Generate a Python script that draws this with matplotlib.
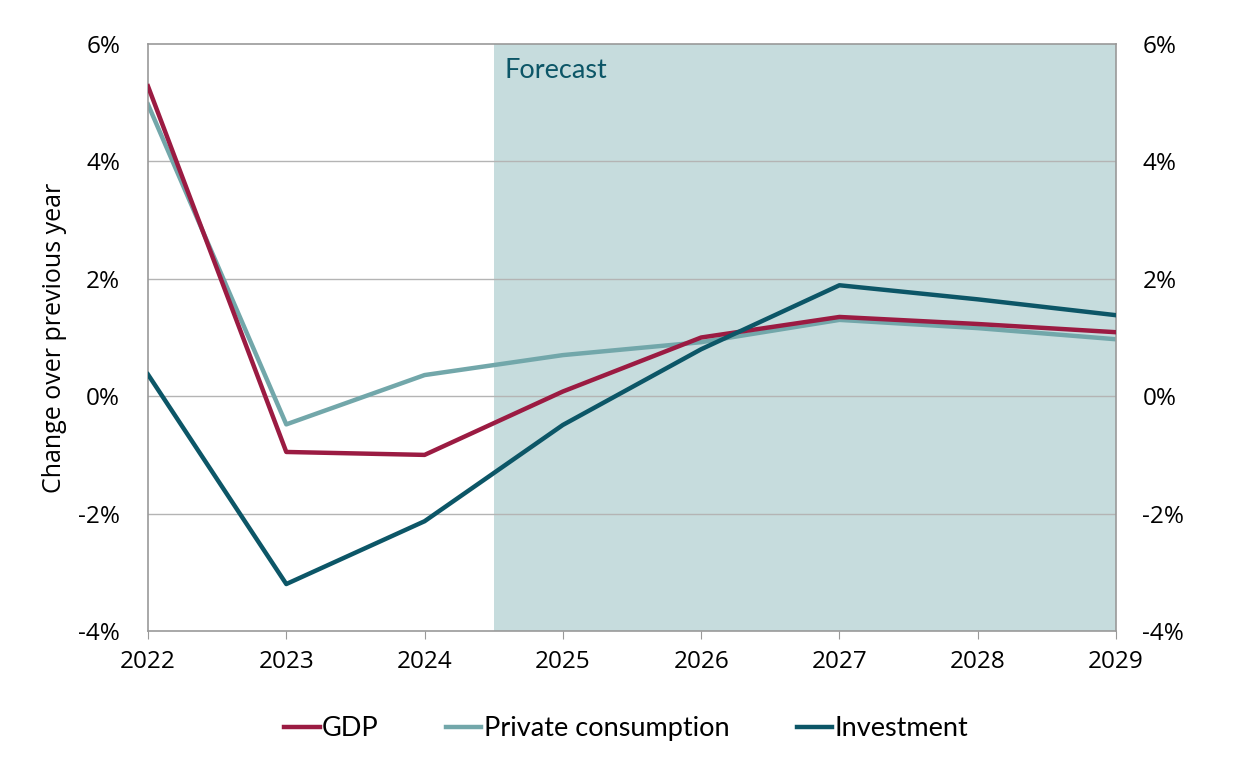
import matplotlib.pyplot as plt
from matplotlib.ticker import FuncFormatter

plt.rcParams["font.family"] = ["Open Sans", "DejaVu Sans"]

years = [2022, 2023, 2024, 2025, 2026, 2027, 2028, 2029]
gdp = [5.28, -0.95, -1.0, 0.08, 1.0, 1.35, 1.23, 1.09]
private_consumption = [4.97, -0.48, 0.36, 0.70, 0.92, 1.30, 1.16, 0.97]
investment = [0.37, -3.2, -2.13, -0.49, 0.80, 1.89, 1.65, 1.38]

forecast_start = 2024.5
yticks = [-4, -2, 0, 2, 4, 6]

c_gdp = "#9B1B42"
c_pc = "#72A7AA"
c_inv = "#0C5667"
c_shade = "#C6DCDD"
c_grid = "#B4B4B4"

fig = plt.figure(figsize=(12.4, 7.64), dpi=100)
ax = fig.add_axes([148 / 1240, 1 - 631 / 764, (1116 - 148) / 1240, (631 - 44) / 764])

ax.axvspan(forecast_start, years[-1], color=c_shade, lw=0, zorder=0)
ax.text(forecast_start + 0.08, 5.55, "Forecast", color=c_inv, fontsize=19.5,
        family="Lato", va="center", ha="left")

for y in yticks[1:-1]:
    ax.axhline(y, color=c_grid, lw=1, zorder=1)

ax.plot(years, gdp, color=c_gdp, lw=3.2, label="GDP", zorder=3)
ax.plot(years, private_consumption, color=c_pc, lw=3.2, label="Private consumption", zorder=2)
ax.plot(years, investment, color=c_inv, lw=3.2, label="Investment", zorder=4)

ax.set_xlim(years[0], years[-1])
ax.set_ylim(-4, 6)
ax.set_xticks(years)
ax.set_yticks(yticks)
fmt = FuncFormatter(lambda v, p: f"{v:.0f}%")
ax.yaxis.set_major_formatter(fmt)

for s in ax.spines.values():
    s.set_color("#999999")
    s.set_linewidth(1.2)

ax.tick_params(axis="y", length=0, pad=20, labelsize=17.5)
ax.tick_params(axis="x", length=6, color="#999999", direction="out", pad=8, labelsize=17.5)

ax2 = ax.twinx()
ax2.set_ylim(-4, 6)
ax2.set_yticks(yticks)
ax2.yaxis.set_major_formatter(fmt)
ax2.tick_params(axis="y", length=0, pad=19, labelsize=17.5)
for s in ax2.spines.values():
    s.set_visible(False)

ax.set_ylabel("Change over previous year", fontsize=18, labelpad=8)

leg = ax.legend(loc="upper center", bbox_to_anchor=(0.494, -0.104), ncol=3, frameon=False,
                handlelength=1.3, handletextpad=0.08, columnspacing=2.5,
                prop={"family": "Lato", "size": 19.5})

fig.savefig("out.png", dpi=100)
